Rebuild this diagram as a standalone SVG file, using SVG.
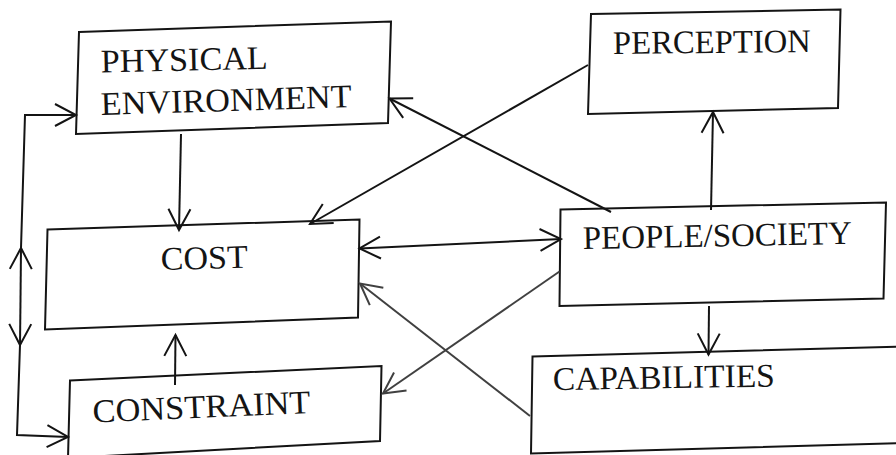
<svg xmlns="http://www.w3.org/2000/svg" width="896" height="455" viewBox="0 0 896 455">
  <style>
    .box { fill: #fff; stroke: #141414; stroke-width: 2; stroke-linejoin: miter; }
    .lbl { font-family: "Liberation Serif", "Times New Roman", serif; font-size: 33px; fill: #141414; }
    .wire { fill: none; stroke: #141414; stroke-width: 2; }
    .wire.soft { stroke: #404040; }
  </style>
  <defs>
    <!-- open chevron arrowheads -->
    <marker id="head" markerUnits="userSpaceOnUse" viewBox="-26 -15 30 30" markerWidth="30" markerHeight="30" refX="0" refY="0" orient="auto-start-reverse" overflow="visible">
      <path d="M-21,-11 L0,0 L-21,11" fill="none" stroke="#141414" stroke-width="2"/>
    </marker>
    <marker id="headSoft" markerUnits="userSpaceOnUse" viewBox="-26 -15 30 30" markerWidth="30" markerHeight="30" refX="0" refY="0" orient="auto-start-reverse" overflow="visible">
      <path d="M-21,-11 L0,0 L-21,11" fill="none" stroke="#404040" stroke-width="2"/>
    </marker>
  </defs>

  <rect width="896" height="455" fill="#fff"/>

  <g id="physical-environment">
    <polygon class="box" points="79,32 391,21.5 388,123 76,134"/>
    <text class="lbl" x="101" y="72.5" transform="rotate(-1.3 101 72.5)" textLength="167" lengthAdjust="spacingAndGlyphs">PHYSICAL</text>
    <text class="lbl" x="101" y="115" transform="rotate(-1.8 101 115)" textLength="251" lengthAdjust="spacingAndGlyphs">ENVIRONMENT</text>
  </g>

  <g id="perception">
    <polygon class="box" points="591,14 840.5,9.5 838,108 588,114"/>
    <text class="lbl" x="613" y="54" transform="rotate(-0.6 613 54)" textLength="198" lengthAdjust="spacingAndGlyphs">PERCEPTION</text>
  </g>

  <g id="cost">
    <polygon class="box" points="47.5,229.5 359.5,219.5 358,317.5 45,329.5"/>
    <text class="lbl" x="161" y="270" transform="rotate(-1.5 161 270)" textLength="87" lengthAdjust="spacingAndGlyphs">COST</text>
  </g>

  <g id="people-society">
    <polygon class="box" points="560.5,209.5 886,202.5 883.5,298.5 559.5,306"/>
    <text class="lbl" x="583" y="249" transform="rotate(-1.1 583 249)" textLength="269" lengthAdjust="spacingAndGlyphs">PEOPLE/SOCIETY</text>
  </g>

  <g id="constraint">
    <polygon class="box" points="70,380.5 381.5,366 380,441 68,458"/>
    <text class="lbl" x="93" y="422.5" transform="rotate(-2.5 93 422.5)" textLength="218" lengthAdjust="spacingAndGlyphs">CONSTRAINT</text>
  </g>

  <g id="capabilities">
    <polygon class="box" points="532.5,356.5 905,346.5 905,443 531,453.5"/>
    <text class="lbl" x="553" y="390" transform="rotate(-0.9 553 390)" textLength="222" lengthAdjust="spacingAndGlyphs">CAPABILITIES</text>
  </g>

  <g id="connectors">
    <!-- physical environment down to cost -->
    <path class="wire" d="M181,134 L179,230" marker-end="url(#head)"/>
    <!-- perception to cost -->
    <path class="wire" d="M588,65 L310,224" marker-end="url(#head)"/>
    <!-- people/society to physical environment -->
    <path class="wire" d="M611,212 L389.5,98.5" marker-end="url(#head)"/>
    <!-- cost <-> people/society -->
    <path class="wire" d="M359.5,248.5 L561,239" marker-start="url(#head)" marker-end="url(#head)"/>
    <!-- people/society up to perception -->
    <path class="wire" d="M711,210 L713,112" marker-end="url(#head)"/>
    <!-- people/society down to capabilities -->
    <path class="wire" d="M709,306 L708.5,354.5" marker-end="url(#head)"/>
    <!-- constraint up to cost -->
    <path class="wire" d="M175,385 L175.5,335" marker-end="url(#head)"/>
    <!-- capabilities to cost -->
    <path class="wire soft" d="M530,416 L360,283.5" marker-end="url(#headSoft)"/>
    <!-- people/society to constraint -->
    <path class="wire soft" d="M559.5,271.5 L383,393.5" marker-end="url(#headSoft)"/>
    <!-- left-hand loop between constraint and physical environment -->
    <path class="wire" d="M20.5,300 L21,248" marker-end="url(#head)"/>
    <path class="wire" d="M21,248 L25,115 L76,115" marker-end="url(#head)"/>
    <path class="wire" d="M20.5,300 L20,345" marker-end="url(#head)"/>
    <path class="wire" d="M20,345 L17,435 L68,437" marker-end="url(#head)"/>
  </g>
</svg>
